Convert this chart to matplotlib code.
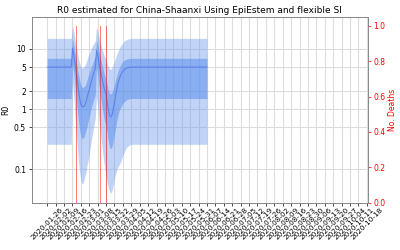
import numpy as np
import pandas as pd
import matplotlib
matplotlib.use("Agg")
import matplotlib.pyplot as plt
from matplotlib.ticker import FixedLocator, NullLocator, FixedFormatter

start_date = "2020-01-26"
day_offsets = [0, 20, 21, 22, 23, 24, 25, 26, 27, 28, 29, 30, 31, 32, 33, 34, 35, 36, 37, 38, 39, 40,
               41, 42, 43, 44, 45, 46, 47, 48, 49, 50, 51, 52, 53, 54, 55, 56, 57, 58, 59, 60,
               61, 62, 64, 66, 68, 70, 133]
r_median = [5.0, 5.0, 10.3, 8.3, 6.0, 4.2, 3.0, 2.1, 1.5, 1.2, 1.1, 1.1, 1.12, 1.25, 1.5, 1.8, 2.1, 2.5, 3.0, 3.6, 4.2, 4.7,
            9.4, 8.0, 6.0, 4.6, 3.8, 3.0, 2.4, 2.0, 1.8, 1.3, 0.95, 0.78, 0.74, 0.8, 1.0, 1.3, 1.7, 2.2, 2.7, 3.2,
            3.6, 4.0, 4.5, 4.8, 4.95, 5.0, 5.0]
r_q25 = [1.5, 1.5, 5.5, 4.2, 2.6, 1.6, 1.0, 0.65, 0.45, 0.36, 0.32, 0.33, 0.36, 0.42, 0.5, 0.62, 0.75, 0.9, 1.1, 1.3, 1.5, 1.7,
         5.0, 3.8, 2.6, 1.8, 1.3, 1.0, 0.75, 0.6, 0.5, 0.38, 0.28, 0.23, 0.22, 0.24, 0.3, 0.38, 0.5, 0.65, 0.8, 0.95,
         1.05, 1.15, 1.32, 1.43, 1.48, 1.5, 1.5]
r_q75 = [7.0, 7.0, 14.5, 12.0, 9.0, 6.8, 5.0, 3.8, 3.0, 2.5, 2.3, 2.3, 2.4, 2.6, 3.0, 3.5, 4.0, 4.6, 5.3, 6.0, 6.8, 7.5,
         14.0, 12.0, 9.5, 7.5, 6.2, 5.0, 4.2, 3.5, 3.1, 2.5, 2.0, 1.8, 1.8, 1.9, 2.2, 2.6, 3.1, 3.7, 4.3, 4.9,
         5.4, 5.9, 6.5, 6.8, 6.95, 7.0, 7.0]
r_q025 = [0.26, 0.26, 2.8, 1.8, 0.9, 0.45, 0.25, 0.14, 0.09, 0.065, 0.057, 0.06, 0.07, 0.085, 0.11, 0.14, 0.18, 0.24, 0.32, 0.42, 0.55, 0.7,
          1.6, 1.1, 0.7, 0.45, 0.3, 0.2, 0.14, 0.1, 0.08, 0.06, 0.048, 0.042, 0.04, 0.045, 0.055, 0.07, 0.085, 0.1, 0.11, 0.12,
          0.13, 0.15, 0.19, 0.23, 0.25, 0.26, 0.26]
r_q975 = [15, 15, 24, 20, 15, 11.5, 9.0, 7.0, 5.8, 5.0, 4.8, 4.9, 5.2, 5.7, 6.5, 7.5, 8.5, 9.5, 10.5, 11.5, 12.5, 13.5,
          23, 20, 16, 13, 11, 9.5, 8.2, 7.2, 6.5, 5.6, 5.0, 4.6, 4.6, 4.9, 5.5, 6.3, 7.2, 8.2, 9.2, 10.2,
          11.2, 12.0, 13.5, 14.4, 14.8, 15, 15]

death_dates = ["2020-02-19", "2020-03-10", "2020-03-15"]
death_counts = [1, 1, 1]

tick_start = "2020-01-26"
tick_end = "2020-10-18"
r_ticks = [0.1, 0.5, 1, 2, 5, 10]
r_tick_labels = ["0.1", "0.5", "1", "2", "5", "10"]
death_ticks = [0.0, 0.2, 0.4, 0.6, 0.8, 1.0]

dates = pd.Timestamp(start_date) + pd.to_timedelta(day_offsets, unit="D")

fig = plt.figure(figsize=(4, 2.5), dpi=100)
ax = fig.add_axes([0.079, 0.19, 0.841, 0.742])

ax.fill_between(dates, r_q025, r_q975, color="cornflowerblue", alpha=0.4, lw=0)
ax.fill_between(dates, r_q25, r_q75, color="cornflowerblue", alpha=0.6, lw=0)
ax.plot(dates, r_median, color="royalblue", alpha=0.6, lw=0.8)

ax.set_yscale("log")
ax.yaxis.set_major_locator(FixedLocator(r_ticks))
ax.yaxis.set_major_formatter(FixedFormatter(r_tick_labels))
ax.yaxis.set_minor_locator(NullLocator())
ax.set_ylim(0.028, 34)

ticks = pd.date_range(tick_start, tick_end, freq="7D")
ax.set_xticks(ticks)
ax.set_xticklabels([t.strftime("%Y-%m-%d") for t in ticks], rotation=45, fontsize=5.2)
ax.set_xlim(pd.Timestamp("2020-01-13"), pd.Timestamp("2020-10-19"))
ax.grid(True, color="#dddddd", lw=0.8)
ax.set_axisbelow(True)
ax.tick_params(axis="y", labelsize=5.5, length=2, width=0.5, pad=2)
ax.tick_params(axis="x", length=2, width=0.5, pad=1)
ax.set_ylabel("R0", fontsize=5.5, labelpad=3)
ax.set_title("R0 estimated for China-Shaanxi Using EpiEstem and flexible SI", fontsize=6.5, pad=3)

ax2 = ax.twinx()
ax2.bar(pd.to_datetime(death_dates), death_counts, width=0.8, color="red", alpha=0.5, lw=0)
ax2.set_ylim(0, 1.05)
ax2.set_yticks(death_ticks)
ax2.set_yticklabels([f"{v:.1f}" for v in death_ticks])
ax2.tick_params(axis="y", colors="red", labelsize=5.5, length=2, width=0.5, pad=2)
ax2.set_ylabel("No. Deaths", color="red", fontsize=5.5, labelpad=2)

for a in (ax, ax2):
    for s in a.spines.values():
        s.set_color("#888888")
        s.set_linewidth(0.6)

fig.savefig("out.png", dpi=100)
